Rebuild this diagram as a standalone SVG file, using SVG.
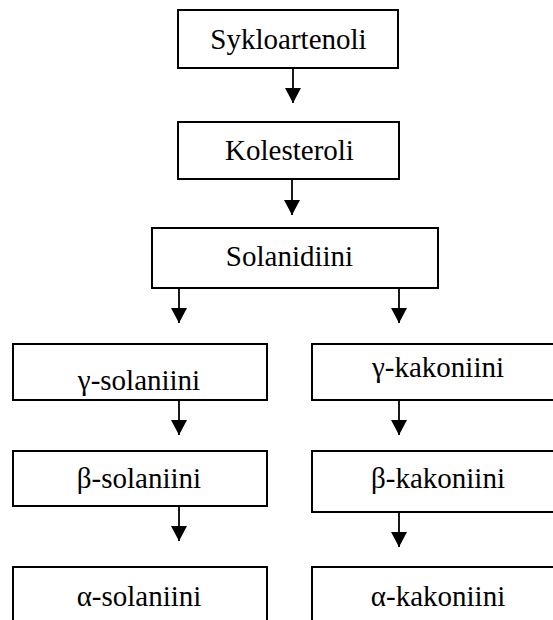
<svg xmlns="http://www.w3.org/2000/svg" width="553" height="620" viewBox="0 0 553 620">
<style>
.box{fill:#fff;stroke:#000;stroke-width:2}
.lbl{font-family:'Liberation Serif','Times New Roman','DejaVu Serif',serif;font-size:29px;fill:#000;text-anchor:middle}
.conn{stroke:#000;stroke-width:1.8;fill:none;marker-end:url(#ah)}
</style>
<defs>
<marker id="ah" viewBox="0 0 15 16" refX="15" refY="8" markerWidth="15" markerHeight="16" markerUnits="userSpaceOnUse" orient="auto">
<path d="M0,0 L15,8 L0,16 Z" fill="#000"/>
</marker>
</defs>
<rect width="553" height="620" fill="#fff"/>
<g id="connectors">
<line class="conn" x1="293" y1="68" x2="293" y2="103"/>
<line class="conn" x1="292" y1="179" x2="292" y2="215"/>
<line class="conn" x1="179" y1="288" x2="179" y2="323"/>
<line class="conn" x1="399" y1="288" x2="399" y2="323"/>
<line class="conn" x1="179" y1="400" x2="179" y2="435"/>
<line class="conn" x1="399" y1="400" x2="399" y2="435"/>
<line class="conn" x1="179" y1="506" x2="179" y2="541"/>
<line class="conn" x1="399" y1="512" x2="399" y2="547"/>
</g>
<g id="sykloartenoli">
<rect class="box" x="178" y="10" width="220" height="58"/>
<text class="lbl" font-family="Liberation Serif" x="288.5" y="49">Sykloartenoli</text>
</g>
<g id="kolesteroli">
<rect class="box" x="178" y="122" width="221" height="57"/>
<text class="lbl" font-family="Liberation Serif" x="289.5" y="160">Kolesteroli</text>
</g>
<g id="solanidiini">
<rect class="box" x="152" y="228" width="286" height="60"/>
<text class="lbl" font-family="Liberation Serif" x="289.5" y="266">Solanidiini</text>
</g>
<g id="gamma-solaniini">
<rect class="box" x="13" y="344" width="254" height="56"/>
<text class="lbl" font-family="Liberation Serif" x="139" y="390">γ-solaniini</text>
</g>
<g id="gamma-kakoniini">
<rect class="box" x="312" y="344" width="254" height="56"/>
<text class="lbl" font-family="Liberation Serif" x="438" y="377">γ-kakoniini</text>
</g>
<g id="beta-solaniini">
<rect class="box" x="13" y="451" width="254" height="55"/>
<text class="lbl" font-family="Liberation Serif" x="139" y="488">β-solaniini</text>
</g>
<g id="beta-kakoniini">
<rect class="box" x="312" y="451" width="254" height="61"/>
<text class="lbl" font-family="Liberation Serif" x="438" y="488">β-kakoniini</text>
</g>
<g id="alpha-solaniini">
<rect class="box" x="13" y="567" width="254" height="70"/>
<text class="lbl" font-family="Liberation Serif" x="139" y="606">α-solaniini</text>
</g>
<g id="alpha-kakoniini">
<rect class="box" x="312" y="567" width="254" height="70"/>
<text class="lbl" font-family="Liberation Serif" x="438" y="606">α-kakoniini</text>
</g>
</svg>
